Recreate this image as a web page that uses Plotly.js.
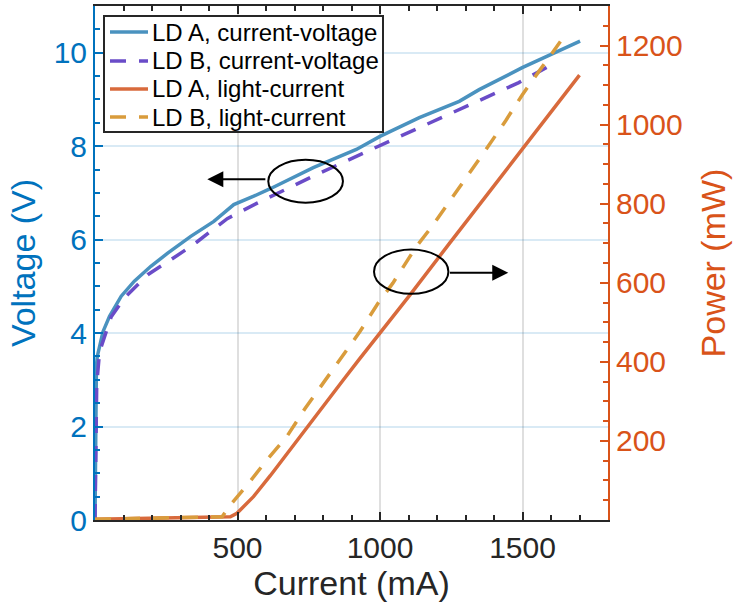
<!DOCTYPE html>
<html>
<head>
<meta charset="utf-8">
<script src="https://cdn.plot.ly/plotly-3.0.1.min.js"></script>
<style>html,body{margin:0;padding:0;background:#fff;}#chart{width:734px;height:608px;}</style>
</head>
<body>
<div id="chart"></div>
<script>
// ---- Data ----
const ldA_iv_current = [0, 3, 5, 8, 28, 51, 92, 138, 196, 255, 336, 417, 487, 557, 615, 766, 917, 1000, 1138, 1278, 1348, 1499, 1603, 1702];
const ldA_iv_voltage = [0, 2.5, 3.3, 3.5, 4.03, 4.36, 4.79, 5.11, 5.43, 5.71, 6.07, 6.39, 6.75, 6.93, 7.09, 7.54, 7.93, 8.21, 8.61, 8.96, 9.21, 9.68, 9.98, 10.25];

const ldB_iv_current = [0, 3, 6, 16, 57, 103, 185, 266, 347, 464, 569, 766, 975, 1045, 1150, 1266, 1371, 1487, 1592];
const ldB_iv_voltage = [0, 2.0, 2.9, 3.6, 4.35, 4.75, 5.25, 5.57, 5.9, 6.45, 6.78, 7.36, 7.93, 8.14, 8.43, 8.75, 9.04, 9.36, 9.71];

const ldA_li_current = [0, 100, 200, 300, 406, 475, 498, 556, 615, 685, 755, 812, 871, 929, 999, 1104, 1243, 1383, 1499, 1603, 1700];
const ldA_li_power   = [2, 3, 4, 5, 6, 8, 17, 59, 112, 179, 245, 299, 354, 408, 472, 568, 699, 830, 938, 1034, 1125];

const ldB_li_current = [0, 100, 200, 300, 400, 446, 475, 539, 603, 673, 737, 801, 865, 929, 993, 1045, 1127, 1185, 1243, 1307, 1371, 1441, 1499, 1557, 1633];
const ldB_li_power   = [2, 3, 4, 5, 6, 8, 38, 93, 152, 211, 282, 346, 409, 476, 548, 599, 691, 745, 805, 870, 936, 1010, 1075, 1134, 1210];

const seriesNames = ["LD A, current-voltage", "LD B, current-voltage", "LD A, light-current", "LD B, light-current"];
const xTicks = [500, 1000, 1500];
const yTicks = [0, 2, 4, 6, 8, 10];
const y2Ticks = [200, 400, 600, 800, 1000, 1200];

// annotation marks (data coordinates)
const ivEllipse = {x0: 608, x1: 870, y0: 6.79, y1: 7.71};
const ivArrow = {from: 603, to: 394, y: 7.29};
const liEllipse = {x0: 979, x1: 1240, y0: 4.84, y1: 5.79};
const liArrow = {from: 1240, to: 1450, y: 5.29};

const FONT = "Liberation Sans, Arial, Helvetica, sans-serif";
const BLUE_AX = "#0072BD";
const ORANGE_AX = "#D95319";
const DARK = "#262626";
const seriesColors = ["#4A92BF", "#6A4CC8", "#D86A3C", "#D99C3C"];
const seriesDash = ["solid", "16px,13px", "solid", "16px,13px"];
const LW = 3.5;

const traces = [
  {x: ldA_iv_current, y: ldA_iv_voltage, yaxis: "y"},
  {x: ldB_iv_current, y: ldB_iv_voltage, yaxis: "y"},
  {x: ldA_li_current, y: ldA_li_power, yaxis: "y2"},
  {x: ldB_li_current, y: ldB_li_power, yaxis: "y2"}
].map((t, i) => Object.assign(t, {
  name: seriesNames[i], type: "scatter", mode: "lines", showlegend: false,
  line: {color: seriesColors[i], width: LW, dash: seriesDash[i]}
}));

// plot-area geometry (pixels) for the hand-made legend box
const M = {l: 95, r: 126, t: 6, b: 88};
const PW = 734 - M.l - M.r, PH = 608 - M.t - M.b;
const px = v => (v - M.l) / PW;
const py = v => (608 - M.b - v) / PH;

const legendBox = {x0: 104, x1: 383, y0: 16, y1: 132};
const legendRows = [32, 61, 89, 117];

const shapes = [
  {type: "circle", xref: "x", yref: "y", x0: ivEllipse.x0, x1: ivEllipse.x1, y0: ivEllipse.y0, y1: ivEllipse.y1,
   line: {color: "#000", width: 2}},
  {type: "circle", xref: "x", yref: "y", x0: liEllipse.x0, x1: liEllipse.x1, y0: liEllipse.y0, y1: liEllipse.y1,
   line: {color: "#000", width: 2}},
  {type: "rect", xref: "paper", yref: "paper", x0: px(legendBox.x0), x1: px(legendBox.x1),
   y0: py(legendBox.y1), y1: py(legendBox.y0), fillcolor: "#fff", line: {color: DARK, width: 2}}
];
const annotations = [
  {x: ivArrow.to, y: ivArrow.y, ax: ivArrow.from, ay: ivArrow.y, xref: "x", yref: "y", axref: "x", ayref: "y",
   text: "", showarrow: true, arrowhead: 2, arrowsize: 1.6, arrowwidth: 2, arrowcolor: "#000"},
  {x: liArrow.to, y: liArrow.y, ax: liArrow.from, ay: liArrow.y, xref: "x", yref: "y", axref: "x", ayref: "y",
   text: "", showarrow: true, arrowhead: 2, arrowsize: 1.6, arrowwidth: 2, arrowcolor: "#000"}
];
seriesNames.forEach((name, i) => {
  shapes.push({type: "line", xref: "paper", yref: "paper", x0: px(110), x1: px(148),
               y0: py(legendRows[i]), y1: py(legendRows[i]),
               line: {color: seriesColors[i], width: LW, dash: seriesDash[i]}});
  annotations.push({xref: "paper", yref: "paper", x: px(151), y: py(legendRows[i]), xanchor: "left", yanchor: "middle",
                    text: name, showarrow: false, borderpad: 0,
                    font: {family: FONT, size: 24, color: "#000"}});
});

const layout = {
  width: 734, height: 608,
  margin: {l: M.l, r: M.r, t: M.t, b: M.b, pad: 0},
  paper_bgcolor: "#fff", plot_bgcolor: "#fff",
  font: {family: FONT, color: DARK},
  showlegend: false,
  xaxis: {range: [0, 1800], tickmode: "array", tickvals: xTicks, ticks: "inside", ticklen: 8, tickwidth: 2,
          tickcolor: DARK, showline: true, linecolor: DARK, linewidth: 2, mirror: "ticks",
          showgrid: true, gridcolor: "rgba(38,38,38,0.15)", gridwidth: 2, zeroline: false,
          tickfont: {family: FONT, size: 30, color: DARK},
          minor: {tickmode: "linear", tick0: 0, dtick: 100, ticks: "inside", ticklen: 5, tickwidth: 2, tickcolor: DARK, showgrid: false},
          title: {text: "Current (mA)", font: {family: FONT, size: 34, color: DARK}, standoff: 4}},
  yaxis: {range: [0, 11], tickmode: "array", tickvals: yTicks, ticks: "inside", ticklen: 8, tickwidth: 2,
          tickcolor: BLUE_AX, showline: true, linecolor: BLUE_AX, linewidth: 2,
          showgrid: true, gridcolor: "rgba(0,114,189,0.15)", gridwidth: 2, zeroline: false,
          tickfont: {family: FONT, size: 30, color: BLUE_AX},
          minor: {tickmode: "linear", tick0: 0, dtick: 0.5, ticks: "inside", ticklen: 5, tickwidth: 2, tickcolor: BLUE_AX, showgrid: false},
          title: {text: "Voltage (V)", font: {family: FONT, size: 34, color: BLUE_AX}, standoff: 8}},
  yaxis2: {range: [0, 1300], overlaying: "y", side: "right", tickmode: "array", tickvals: y2Ticks,
           ticks: "inside", ticklen: 8, tickwidth: 2, tickcolor: ORANGE_AX,
           showline: true, linecolor: ORANGE_AX, linewidth: 2, showgrid: false, zeroline: false,
           tickfont: {family: FONT, size: 30, color: ORANGE_AX},
           minor: {tickmode: "linear", tick0: 0, dtick: 50, ticks: "inside", ticklen: 5, tickwidth: 2, tickcolor: ORANGE_AX, showgrid: false},
           title: {text: "Power (mW)", font: {family: FONT, size: 34, color: ORANGE_AX}, standoff: 19}},
  shapes: shapes,
  annotations: annotations
};

Plotly.newPlot("chart", traces, layout, {displayModeBar: false, staticPlot: true});
</script>
</body>
</html>
